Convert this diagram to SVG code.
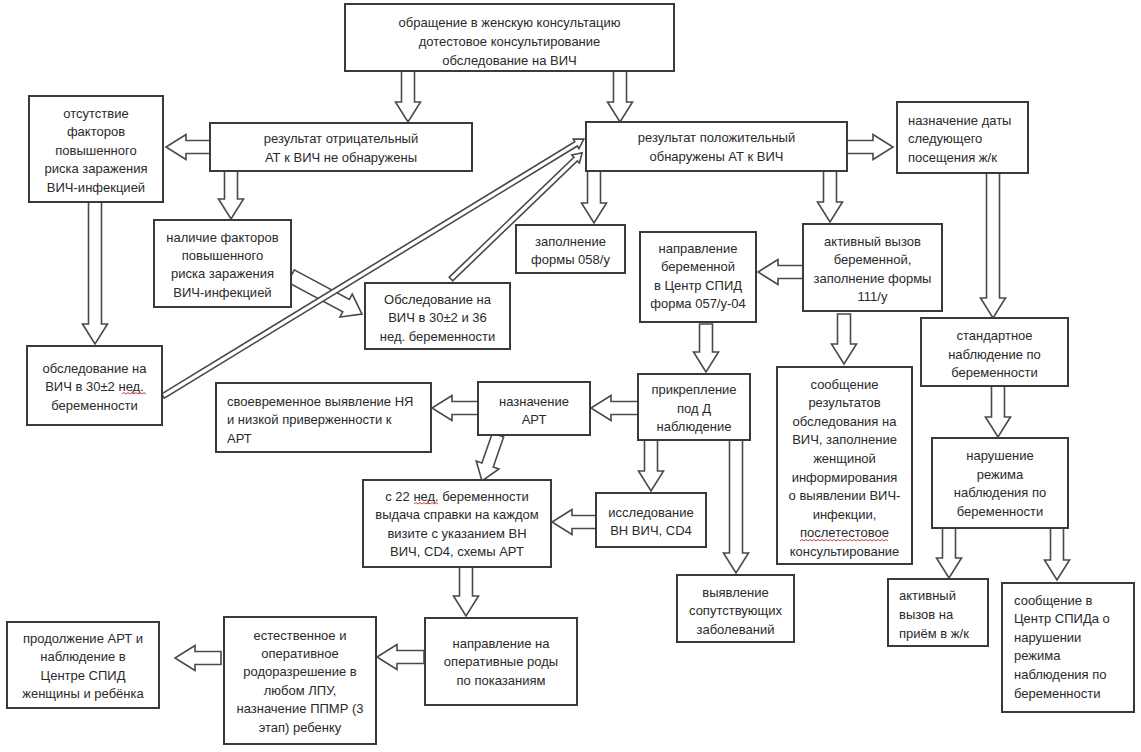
<svg xmlns="http://www.w3.org/2000/svg" width="1141" height="752" viewBox="0 0 1141 752">
<style>
.box{fill:#fff;stroke:#3a3a3a;stroke-width:2}
.t{font-family:"Liberation Sans",Arial,sans-serif;font-size:13px;fill:#2a2a2a;text-anchor:middle}
.tl{text-anchor:start}
.arr{fill:#fff;stroke:#4a4a4a;stroke-width:1.6;stroke-linejoin:miter}
.sp{fill:none;stroke:#d04040;stroke-width:1}
</style>
<rect width="1141" height="752" fill="#fff"/>
<g id="connectors">
<polygon class="arr" points="401.5,71 414.5,71 414.5,102 420.5,102 408,122 395.5,102 401.5,102"/>
<polygon class="arr" points="613.5,71 626.5,71 626.5,102 632.5,102 620,122 607.5,102 613.5,102"/>
<polygon class="arr" points="224.5,171 237.5,171 237.5,199 243.5,199 231,219 218.5,199 224.5,199"/>
<polygon class="arr" points="88.5,202 101.5,202 101.5,324 107.5,324 95,344 82.5,324 88.5,324"/>
<polygon class="arr" points="587.5,171 600.5,171 600.5,203 606.5,203 594,223 581.5,203 587.5,203"/>
<polygon class="arr" points="823.5,171 836.5,171 836.5,202 842.5,202 830,222 817.5,202 823.5,202"/>
<polygon class="arr" points="837.5,314 850.5,314 850.5,344 856.5,344 844,364 831.5,344 837.5,344"/>
<polygon class="arr" points="699.5,324 712.5,324 712.5,352 718.5,352 706,372 693.5,352 699.5,352"/>
<polygon class="arr" points="644.5,440 657.5,440 657.5,471 663.5,471 651,491 638.5,471 644.5,471"/>
<polygon class="arr" points="729.5,440 742.5,440 742.5,553 748.5,553 736,573 723.5,553 729.5,553"/>
<polygon class="arr" points="459.5,567 472.5,567 472.5,596 478.5,596 466,616 453.5,596 459.5,596"/>
<polygon class="arr" points="986.5,173 999.5,173 999.5,298 1005.5,298 993,318 980.5,298 986.5,298"/>
<polygon class="arr" points="991.5,386 1004.5,386 1004.5,417 1010.5,417 998,437 985.5,417 991.5,417"/>
<polygon class="arr" points="942.5,528 955.5,528 955.5,558 961.5,558 949,578 936.5,558 942.5,558"/>
<polygon class="arr" points="1050.5,528 1063.5,528 1063.5,560 1069.5,560 1057,580 1044.5,560 1050.5,560"/>
<polygon class="arr" points="210,140.5 186,140.5 186,134.5 166,147 186,159.5 186,153.5 210,153.5"/>
<polygon class="arr" points="847,140.5 873,140.5 873,134.5 893,147 873,159.5 873,153.5 847,153.5"/>
<polygon class="arr" points="803,265.5 778,265.5 778,259.5 758,272 778,284.5 778,278.5 803,278.5"/>
<polygon class="arr" points="638,401.5 611,401.5 611,395.5 591,408 611,420.5 611,414.5 638,414.5"/>
<polygon class="arr" points="478,401.5 452,401.5 452,395.5 432,408 452,420.5 452,414.5 478,414.5"/>
<polygon class="arr" points="596,515.5 572,515.5 572,509.5 552,522 572,534.5 572,528.5 596,528.5"/>
<polygon class="arr" points="424,650.5 397,650.5 397,644.5 377,657 397,669.5 397,663.5 424,663.5"/>
<polygon class="arr" points="221,651.5 195,651.5 195,645.5 175,658 195,670.5 195,664.5 221,664.5"/>
<polygon class="arr" transform="translate(291,276) rotate(28.2)" points="0,-7 62.5,-7 62.5,-13 80.5,0 62.5,13 62.5,7 0,7"/>
<polygon class="arr" transform="translate(163,396) rotate(-31.4)" points="0,-2.5 484,-2.5 484,-5.5 493,0 484,5.5 484,2.5 0,2.5"/>
<polygon class="arr" transform="translate(451,279) rotate(-43.9)" points="0,-2.5 173,-2.5 173,-5.5 182,0 173,5.5 173,2.5 0,2.5"/>
<polygon class="arr" transform="translate(498,435) rotate(109.2)" points="0,-6 31.7,-6 31.7,-12 48.7,0 31.7,12 31.7,6 0,6"/>
</g>
<g id="nA"><rect class="box" x="345" y="4" width="329" height="67"/><text class="t"><tspan x="509.5" y="26.5">обращение в женскую консультацию</tspan><tspan x="509.5" y="45.5">дотестовое консультирование</tspan><tspan x="509.5" y="64.5">обследование на ВИЧ</tspan></text></g>
<g id="nB"><rect class="box" x="210" y="123" width="262" height="48"/><text class="t"><tspan x="341" y="142.5">результат отрицательный</tspan><tspan x="341" y="161.5">АТ к ВИЧ не обнаружены</tspan></text></g>
<g id="nC"><rect class="box" x="586" y="122" width="261" height="49"/><text class="t"><tspan x="716.5" y="142">результат положительный</tspan><tspan x="716.5" y="161">обнаружены АТ к ВИЧ</tspan></text></g>
<g id="nD"><rect class="box" x="29" y="96" width="134" height="106"/><text class="t"><tspan x="96" y="117.5">отсутствие</tspan><tspan x="96" y="136">факторов</tspan><tspan x="96" y="154.5">повышенного</tspan><tspan x="96" y="173">риска заражения</tspan><tspan x="96" y="191.5">ВИЧ-инфекцией</tspan></text></g>
<g id="nE"><rect class="box" x="897" y="102" width="131" height="71"/><text class="t tl"><tspan x="908" y="124.5">назначение даты</tspan><tspan x="908" y="143">следующего</tspan><tspan x="908" y="161.5">посещения ж/к</tspan></text></g>
<g id="nF"><rect class="box" x="154" y="220" width="137" height="87"/><text class="t"><tspan x="222.5" y="241.5">наличие факторов</tspan><tspan x="222.5" y="259.5">повышенного</tspan><tspan x="222.5" y="278">риска заражения</tspan><tspan x="222.5" y="296.5">ВИЧ-инфекцией</tspan></text></g>
<g id="nG"><rect class="box" x="365" y="283" width="145" height="66"/><text class="t"><tspan x="437.5" y="303.5">Обследование на</tspan><tspan x="437.5" y="322">ВИЧ в 30±2 и 36</tspan><tspan x="437.5" y="340.5">нед. беременности</tspan></text></g>
<g id="nH"><rect class="box" x="27" y="346" width="135" height="79"/><text class="t"><tspan x="94.5" y="372.5">обследование на</tspan><tspan x="94.5" y="391">ВИЧ в 30±2 нед.</tspan><tspan x="94.5" y="409.5">беременности</tspan></text><polyline class="sp" points="122,394 124,392.5 126,394 128,392.5 130,394 132,392.5 134,394 136,392.5 138,394 140,392.5 142,394 144,392.5 146,394"/></g>
<g id="nI"><rect class="box" x="516" y="225" width="109" height="48"/><text class="t"><tspan x="570.5" y="245.5">заполнение</tspan><tspan x="570.5" y="264">формы 058/у</tspan></text></g>
<g id="nJ"><rect class="box" x="640" y="232" width="116" height="90"/><text class="t"><tspan x="698" y="253">направление</tspan><tspan x="698" y="271">беременной</tspan><tspan x="698" y="289.5">в Центр СПИД</tspan><tspan x="698" y="307.5">форма 057/у-04</tspan></text></g>
<g id="nK"><rect class="box" x="803" y="224" width="139" height="87"/><text class="t"><tspan x="872.5" y="245.5">активный вызов</tspan><tspan x="872.5" y="264">беременной,</tspan><tspan x="872.5" y="282.5">заполнение формы</tspan><tspan x="872.5" y="301">111/у</tspan></text></g>
<g id="nL"><rect class="box" x="921" y="318" width="147" height="68"/><text class="t"><tspan x="994.5" y="340">стандартное</tspan><tspan x="994.5" y="358.5">наблюдение по</tspan><tspan x="994.5" y="377">беременности</tspan></text></g>
<g id="nM"><rect class="box" x="638" y="374" width="112" height="66"/><text class="t"><tspan x="694" y="394">прикрепление</tspan><tspan x="694" y="412.5">под Д</tspan><tspan x="694" y="431">наблюдение</tspan></text></g>
<g id="nN"><rect class="box" x="478" y="382" width="112" height="53"/><text class="t"><tspan x="534" y="405.5">назначение</tspan><tspan x="534" y="423.5">АРТ</tspan></text></g>
<g id="nO"><rect class="box" x="216" y="383" width="215" height="69"/><text class="t tl"><tspan x="227" y="405.5">своевременное выявление НЯ</tspan><tspan x="227" y="424">и низкой приверженности к</tspan><tspan x="227" y="442.5">АРТ</tspan></text></g>
<g id="nP"><rect class="box" x="777" y="367" width="135" height="197"/><text class="t"><tspan x="844.5" y="388.5">сообщение</tspan><tspan x="844.5" y="407.1">результатов</tspan><tspan x="844.5" y="425.7">обследования на</tspan><tspan x="844.5" y="444.3">ВИЧ, заполнение</tspan><tspan x="844.5" y="462.9">женщиной</tspan><tspan x="844.5" y="481.5">информирования</tspan><tspan x="844.5" y="500.1">о выявлении ВИЧ-</tspan><tspan x="844.5" y="518.7">инфекции,</tspan><tspan x="844.5" y="537.3">послетестовое</tspan><tspan x="844.5" y="555.9">консультирование</tspan></text><polyline class="sp" points="800,541 802,539.5 804,541 806,539.5 808,541 810,539.5 812,541 814,539.5 816,541 818,539.5 820,541 822,539.5 824,541 826,539.5 828,541 830,539.5 832,541 834,539.5 836,541 838,539.5 840,541 842,539.5 844,541 846,539.5 848,541 850,539.5 852,541 854,539.5 856,541 858,539.5 860,541 862,539.5 864,541 866,539.5 868,541 870,539.5 872,541 874,539.5 876,541 878,539.5 880,541 882,539.5 884,541 886,539.5 888,541"/></g>
<g id="nQ"><rect class="box" x="932" y="438" width="136" height="90"/><text class="t"><tspan x="1000" y="460">нарушение</tspan><tspan x="1000" y="478.5">режима</tspan><tspan x="1000" y="497">наблюдения по</tspan><tspan x="1000" y="515.5">беременности</tspan></text></g>
<g id="nR"><rect class="box" x="363" y="480" width="188" height="87"/><text class="t"><tspan x="457" y="500.5">с 22 нед. беременности</tspan><tspan x="457" y="519">выдача справки на каждом</tspan><tspan x="457" y="537.5">визите с указанием ВН</tspan><tspan x="457" y="556">ВИЧ, CD4, схемы АРТ</tspan></text><polyline class="sp" points="414,504 416,502.5 418,504 420,502.5 422,504 424,502.5 426,504 428,502.5 430,504 432,502.5 434,504 436,502.5 438,504"/></g>
<g id="nS"><rect class="box" x="596" y="493" width="110" height="54"/><text class="t"><tspan x="651" y="516.5">исследование</tspan><tspan x="651" y="535">ВН ВИЧ, CD4</tspan></text></g>
<g id="nT"><rect class="box" x="677" y="575" width="117" height="67"/><text class="t"><tspan x="735.5" y="596.5">выявление</tspan><tspan x="735.5" y="615">сопутствующих</tspan><tspan x="735.5" y="633.5">заболеваний</tspan></text></g>
<g id="nU"><rect class="box" x="888" y="579" width="100" height="67"/><text class="t tl"><tspan x="899" y="599.5">активный</tspan><tspan x="899" y="618.5">вызов на</tspan><tspan x="899" y="637.5">приём в ж/к</tspan></text></g>
<g id="nV"><rect class="box" x="1002" y="583" width="132" height="129"/><text class="t tl"><tspan x="1014" y="604.5">сообщение в</tspan><tspan x="1014" y="623.1">Центр СПИДа о</tspan><tspan x="1014" y="641.7">нарушении</tspan><tspan x="1014" y="660.3">режима</tspan><tspan x="1014" y="678.9">наблюдения по</tspan><tspan x="1014" y="697.5">беременности</tspan></text></g>
<g id="nW"><rect class="box" x="425" y="618" width="152" height="87"/><text class="t"><tspan x="501" y="647.5">направление на</tspan><tspan x="501" y="666">оперативные роды</tspan><tspan x="501" y="684.5">по показаниям</tspan></text></g>
<g id="nX"><rect class="box" x="224" y="617" width="152" height="127"/><text class="t"><tspan x="300" y="639.5">естественное и</tspan><tspan x="300" y="657.9">оперативное</tspan><tspan x="300" y="676.3">родоразрешение в</tspan><tspan x="300" y="694.7">любом ЛПУ,</tspan><tspan x="300" y="713.1">назначение ППМР (3</tspan><tspan x="300" y="731.5">этап) ребенку</tspan></text></g>
<g id="nY"><rect class="box" x="7" y="622" width="152" height="86"/><text class="t"><tspan x="83" y="642.5">продолжение АРТ и</tspan><tspan x="83" y="661">наблюдение в</tspan><tspan x="83" y="679.5">Центре СПИД</tspan><tspan x="83" y="698">женщины и ребёнка</tspan></text></g>
</svg>
